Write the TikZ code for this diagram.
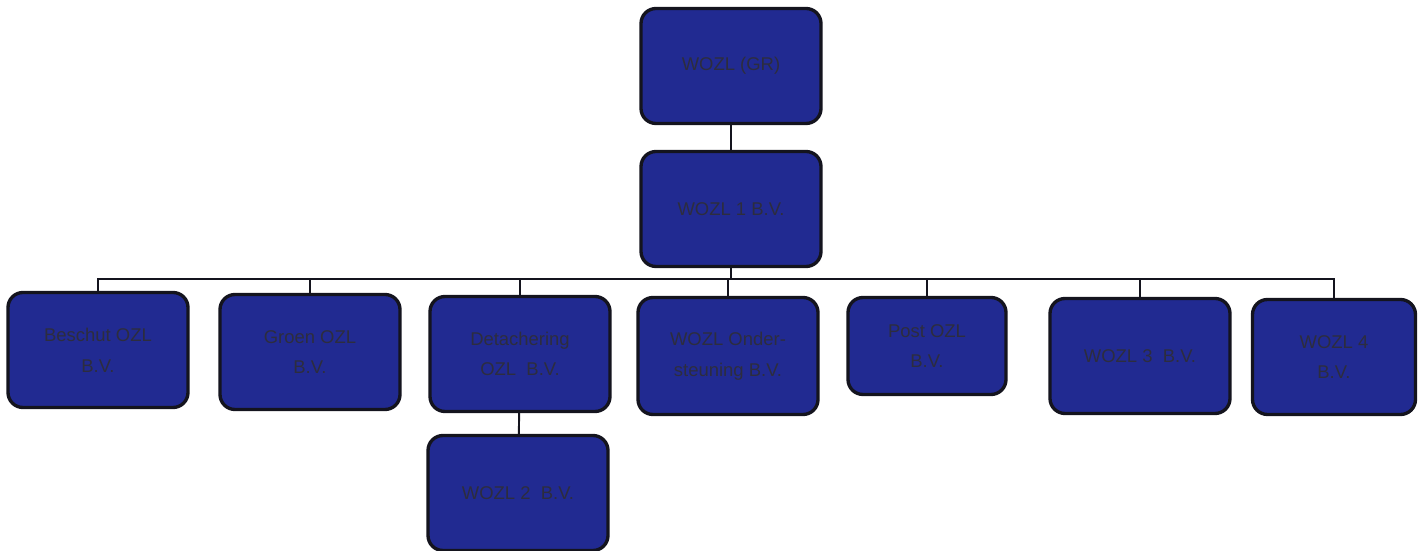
\documentclass[tikz,border=0pt]{standalone}
\usepackage{fontspec}
\setmainfont{Liberation Sans}
\usepackage{tikz}
\usetikzlibrary{positioning,calc}
\usepackage{xcolor}
\definecolor{boxcol}{RGB}{33,42,145}
\definecolor{edgecol}{RGB}{20,20,30}
\definecolor{txtcol}{RGB}{45,45,62}
\tikzset{
  % organisation box
  orgbox/.style={rectangle, rounded corners=3mm, draw=edgecol, line width=1.9pt, fill=boxcol,
                 text=txtcol, align=center, font=\fontsize{10.5}{17.5}\selectfont,
                 minimum width=#1, minimum height=23mm, inner sep=2pt},
  orgbox/.default={36mm},
  % connector line
  orgline/.style={draw=edgecol, line width=1.1pt},
}

\begin{document}
\begin{tikzpicture}[x=0.2mm,y=-0.2mm]
  \useasboundingbox (0,0) rectangle (1423,551);
  % top of the tree
  \node[orgbox] (wozlgr) at (731,66) {WOZL (GR)};
  \node[orgbox] (wozl1) at (731,209) {WOZL 1 B.V.};
  % subsidiaries
  \node[orgbox] (beschut) at (98,350) {Beschut OZL\\B.V.};
  \node[orgbox] (groen) at (310,352) {Groen OZL\\B.V.};
  \node[orgbox] (detach) at (520,354) {Detachering\\OZL\ \ B.V.};
  \node[orgbox, minimum height=23.4mm] (onder) at (728,356) {WOZL Onder-\\steuning B.V.};
  \node[orgbox=31.6mm, minimum height=19.4mm] (post) at (927,346) {Post OZL\\B.V.};
  \node[orgbox] (wozl3) at (1140,356) {WOZL 3\ \ B.V.};
  \node[orgbox=32.6mm] (wozl4) at (1334,357) {WOZL 4\\B.V.};
  \node[orgbox] (wozl2) at (518,493) {WOZL 2\ \ B.V.};
  % connectors
  \coordinate (bus) at (731,279);
  \draw[orgline] (wozlgr) -- (wozl1);
  \draw[orgline] (wozl1) -- (bus);
  \foreach \n in {beschut,groen,detach,onder,post,wozl3,wozl4}
    \draw[orgline] (bus) -| (\n.north);
  \draw[orgline] (detach) -- (wozl2);
\end{tikzpicture}
\end{document}
